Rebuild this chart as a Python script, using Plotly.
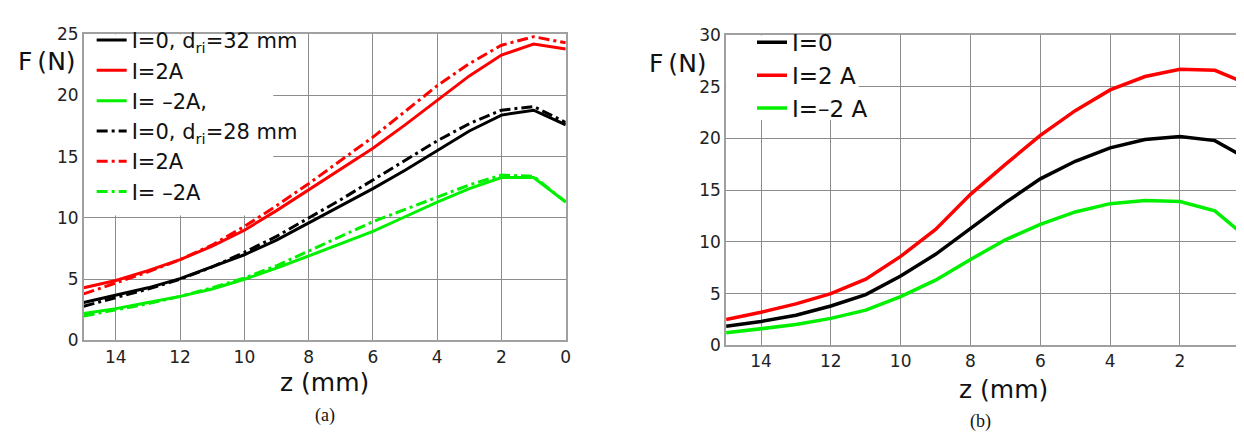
import plotly.graph_objects as go

W, H = 1244, 436

# ---------- data ----------
z = [15, 14, 13, 12, 11, 10, 9, 8, 7, 6, 5, 4, 3, 2, 1, 0]

# panel (a)
a_black_32 = [3.1, 3.7, 4.3, 5.05, 6.0, 7.0, 8.2, 9.6, 11.0, 12.4, 13.9, 15.5, 17.1, 18.4, 18.8, 17.6]
a_red_32 = [4.3, 4.9, 5.7, 6.6, 7.7, 9.0, 10.6, 12.3, 14.0, 15.7, 17.6, 19.6, 21.6, 23.3, 24.2, 23.8]
a_green_32 = [2.2, 2.6, 3.1, 3.6, 4.2, 5.0, 5.9, 6.9, 7.9, 8.9, 10.1, 11.3, 12.4, 13.3, 13.3, 11.3]
a_black_28 = [2.8, 3.5, 4.2, 5.0, 6.0, 7.2, 8.5, 10.0, 11.5, 13.1, 14.7, 16.3, 17.7, 18.8, 19.1, 17.8]
a_red_28 = [3.8, 4.7, 5.6, 6.6, 7.8, 9.3, 11.0, 12.8, 14.7, 16.6, 18.7, 20.8, 22.6, 24.1, 24.8, 24.3]
a_green_28 = [2.0, 2.5, 3.0, 3.6, 4.3, 5.1, 6.1, 7.3, 8.5, 9.7, 10.7, 11.7, 12.7, 13.5, 13.4, 11.3]

# panel (b)
b_black = [1.85, 2.3, 2.9, 3.8, 4.9, 6.7, 8.8, 11.3, 13.8, 16.1, 17.8, 19.1, 19.9, 20.2, 19.8, 17.9]
b_red = [2.5, 3.2, 4.0, 5.0, 6.4, 8.6, 11.2, 14.6, 17.5, 20.3, 22.7, 24.7, 26.0, 26.7, 26.6, 25.2]
b_green = [1.2, 1.6, 2.0, 2.6, 3.4, 4.7, 6.3, 8.3, 10.2, 11.7, 12.9, 13.7, 14.0, 13.9, 13.0, 10.2]

names_a = ["I=0, d<sub>ri</sub>=32 mm", "I=2A", "I= \u20132A,",
           "I=0, d<sub>ri</sub>=28 mm", "I=2A", "I= \u20132A"]
names_b = ["I=0", "I=2 A", "I=\u20132 A"]

BLACK, RED, GREEN = "#000000", "#ff0000", "#00f000"
DD = "11px,4px,3px,4px"
FONT = "DejaVu Sans, Arial"

fig = go.Figure()

series_a = [
    (a_black_32, BLACK, "solid"), (a_red_32, RED, "solid"), (a_green_32, GREEN, "solid"),
    (a_black_28, BLACK, DD), (a_red_28, RED, DD), (a_green_28, GREEN, DD),
]
for (vals, col, dash), nm in zip(series_a, names_a):
    fig.add_trace(go.Scatter(x=z, y=vals, mode="lines", name=nm,
                             line=dict(color=col, width=3, dash=dash),
                             xaxis="x", yaxis="y", legend="legend"))

for vals, col, nm in zip([b_black, b_red, b_green], [BLACK, RED, GREEN], names_b):
    fig.add_trace(go.Scatter(x=z, y=vals, mode="lines", name=nm,
                             line=dict(color=col, width=3.5),
                             xaxis="x2", yaxis="y2", legend="legend2"))

def px(x):
    return x / W

def py(y):
    return 1 - y / H

GRID = "#8c8c8c"
LINE = "#a0a0a0"
TICKFONT = dict(family=FONT, size=17, color="#222")

axis_common = dict(showgrid=True, gridcolor=GRID, gridwidth=1, zeroline=False,
                   showline=True, linecolor=LINE, linewidth=1.5,
                   ticks="", tickfont=TICKFONT)

fig.update_layout(
    width=W, height=H,
    margin=dict(l=0, r=0, t=0, b=0),
    paper_bgcolor="white", plot_bgcolor="white",
    xaxis=dict(domain=[px(76), px(560)], range=[15, 0], anchor="y",
               tickvals=[14, 12, 10, 8, 6, 4, 2, 0], mirror=True, **axis_common),
    yaxis=dict(domain=[py(338), py(17)], range=[0, 25], anchor="x",
               tickvals=[0, 5, 10, 15, 20, 25], mirror=True, **axis_common),
    xaxis2=dict(domain=[px(721), 1.0], range=[15, 0.08], anchor="y2",
                tickvals=[14, 12, 10, 8, 6, 4, 2], mirror=True, **axis_common),
    yaxis2=dict(domain=[py(343), py(18)], range=[0, 30], anchor="x2",
                tickvals=[0, 5, 10, 15, 20, 25, 30], **axis_common),
    legend=dict(x=px(84), y=py(2), xanchor="left", yanchor="top",
                bgcolor="rgba(0,0,0,0)", borderwidth=0, tracegroupgap=0,
                font=dict(family=FONT, size=21, color="#111")),
    legend2=dict(x=px(747), y=py(3), xanchor="left", yanchor="top",
                 bgcolor="rgba(0,0,0,0)", borderwidth=0,
                 font=dict(family=FONT, size=23, color="#111")),
    showlegend=True,
)

# white patches hiding the grid behind each legend (drawn under the curves)
fig.add_shape(type="rect", xref="x", yref="y", x0=15, x1=9.1, y0=10.2, y1=25,
              fillcolor="white", line=dict(width=0), layer="between")
fig.add_shape(type="rect", xref="x2", yref="y2", x0=15, x1=11.2, y0=21.8, y1=30,
              fillcolor="white", line=dict(width=0), layer="between")

ann_font = dict(family=FONT, size=25, color="#111")
cap_font = dict(family="Liberation Serif, Times New Roman", size=18, color="#111")
anns = [
    ("F\u2009(N)", 39, 46, ann_font), ("z (mm)", 318, 382, ann_font), ("(a)", 318, 417, cap_font),
    ("F\u2009(N)", 673, 48, ann_font), ("z (mm)", 1000, 389, ann_font), ("(b)", 976, 423, cap_font),
]
for t, x, y, f in anns:
    fig.add_annotation(text=t, x=px(x), y=py(y), xref="paper", yref="paper",
                       showarrow=False, xanchor="center", yanchor="middle", font=f)

fig.write_html("out.html")
